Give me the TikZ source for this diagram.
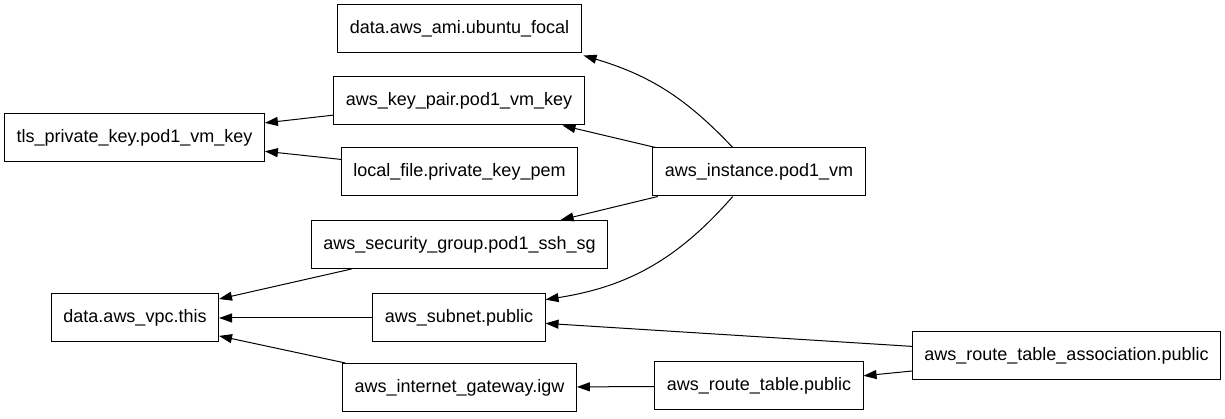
\documentclass[tikz,border=0pt]{standalone}
\usepackage{fontspec}
\setmainfont{Liberation Sans}
\usetikzlibrary{arrows.meta}
\tikzset{res/.style={draw, rectangle, line width=1pt, inner xsep=12pt, minimum height=48pt,
    font=\fontsize{18}{21}\selectfont},
  dep/.style={-{Triangle[length=13pt,width=9pt]}, line width=1pt}}

\begin{document}
\begin{tikzpicture}[x=1pt, y=1pt]
\useasboundingbox (0,0) rectangle (1225,419);
% resources
\node[res] (ami) at (459.5,390) {data.aws\_ami.ubuntu\_focal};
\node[res] (kp) at (459,318) {aws\_key\_pair.pod1\_vm\_key};
\node[res] (tls) at (134.5,281.5) {tls\_private\_key.pod1\_vm\_key};
\node[res] (lf) at (459.5,247) {local\_file.private\_key\_pem};
\node[res] (inst) at (759,247) {aws\_instance.pod1\_vm};
\node[res] (sg) at (459.5,174.5) {aws\_security\_group.pod1\_ssh\_sg};
\node[res] (vpc) at (135,101) {data.aws\_vpc.this};
\node[res] (subnet) at (459,101) {aws\_subnet.public};
\node[res] (rta) at (1066.5,63) {aws\_route\_table\_association.public};
\node[res] (igw) at (459.5,31.5) {aws\_internet\_gateway.igw};
\node[res] (rt) at (759,33) {aws\_route\_table.public};
% dependencies
\draw[dep] (inst.137) to[bend right=15] ([xshift=2pt,yshift=-2pt]ami.south east);
\draw[dep] (inst) -- (kp);
\draw[dep] (inst) -- (sg);
\draw[dep] (inst.223) to[bend left=20] (subnet.12);
\draw[dep] (kp) -- (tls);
\draw[dep] (lf) -- (tls);
\draw[dep] (sg) -- (vpc);
\draw[dep] (subnet) -- (vpc);
\draw[dep] (igw) -- (vpc);
\draw[dep] (rta) -- (subnet);
\draw[dep] (rta) -- (rt);
\draw[dep] (rt) -- (igw);
\end{tikzpicture}
\end{document}
